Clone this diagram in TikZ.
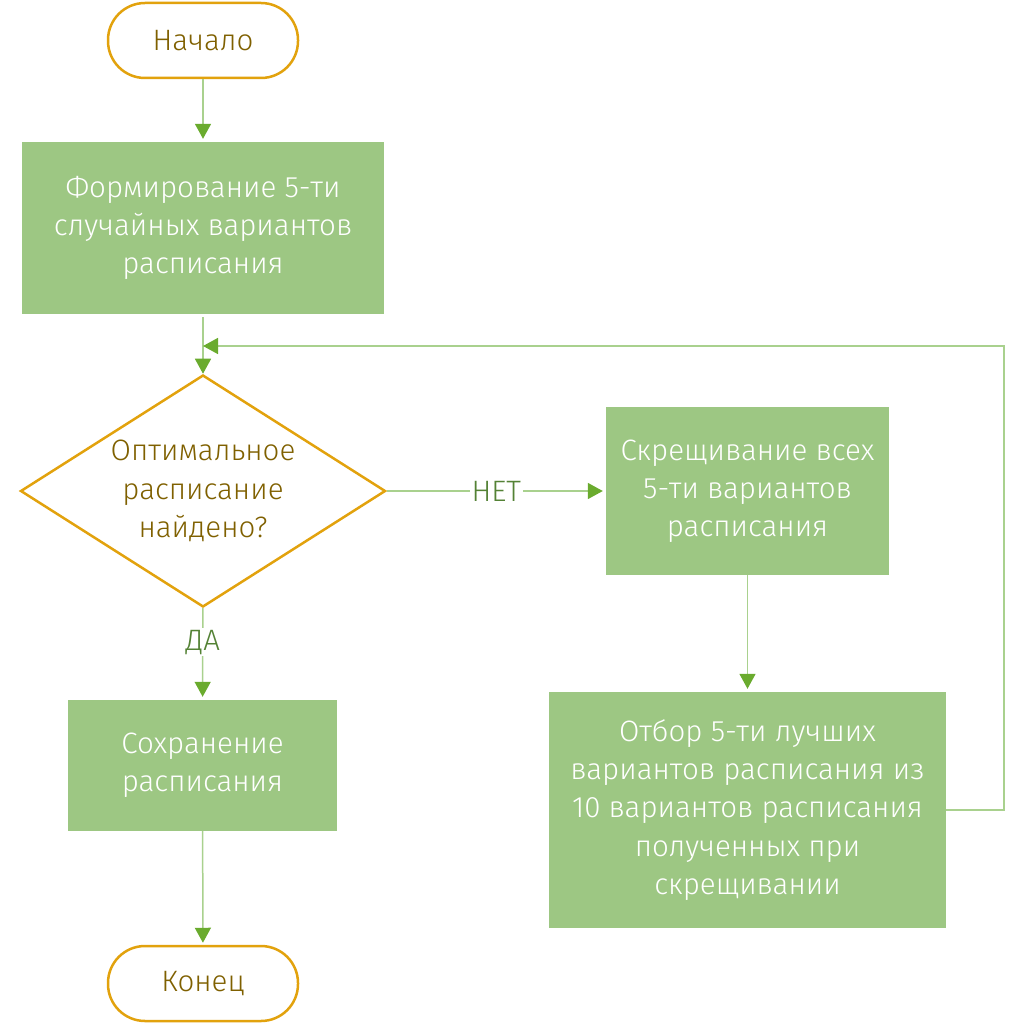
\documentclass[tikz,border=0pt]{standalone}
\usepackage{fontspec}
\setmainfont{Fira Sans}[UprightFont=* Light]
\usetikzlibrary{shapes.geometric,arrows.meta}
\definecolor{boxgreen}{HTML}{9DC783}
\definecolor{linegreen}{HTML}{A9D18E}
\definecolor{tipgreen}{HTML}{6AAB2E}
\definecolor{gold}{HTML}{E2A20D}
\definecolor{brown}{HTML}{7F6000}
\definecolor{lblgreen}{HTML}{548235}
\tikzset{
  base/.style={inner sep=0pt, align=center, font=\fontsize{29.5}{38.2}\selectfont},
  term/.style={base, draw=gold, line width=2.5pt, rounded corners=37pt, minimum width=190pt, minimum height=75pt, text=brown, fill=white},
  proc/.style={base, fill=boxgreen, text=white},
  decis/.style={base, shape=diamond, draw=gold, line width=2.5pt, aspect=1.573, minimum width=365pt, minimum height=232pt, text=brown},
  arr/.style={draw=linegreen, line width=1.5pt, -{Triangle[length=15pt,width=16pt,color=tipgreen,fill=tipgreen]}},
  lbl/.style={font=\fontsize{29.5}{34}\selectfont, text=lblgreen, fill=white, inner sep=2pt}
}
\begin{document}
\begin{tikzpicture}[x=1pt,y=-1pt]
\useasboundingbox (0,0) rectangle (1024,1024);
\node[term] (start) at (203,40.5) {Начало};
\node[proc, minimum width=362pt, minimum height=172pt] (form) at (203,228) {Формирование 5-ти\\случайных вариантов\\расписания};
\node[decis] (dec) at (203,491) {Оптимальное\\расписание\\найдено?};
\node[proc, minimum width=283pt, minimum height=168pt] (cross) at (747.5,491) {Скрещивание всех\\5-ти вариантов\\расписания};
\node[proc, minimum width=397pt, minimum height=236pt] (sel) at (747.5,810) {Отбор 5-ти лучших\\вариантов расписания из\\10 вариантов расписания\\полученных при\\скрещивании};
\node[proc, minimum width=269pt, minimum height=131pt] (save) at (202.5,765.5) {Сохранение\\расписания};
\node[term] (end) at (203,983.5) {Конец};
\coordinate (join) at (203,346);
\coordinate (rt) at (1004,810);

\draw[arr, shorten >=3pt] (start) -- (form);
\draw[arr, shorten <=3pt] (form) -- (dec);
\draw[arr, shorten >=3pt] (dec) -- node[lbl] {НЕТ} (cross);
\draw[arr, shorten >=3pt] (dec) -- node[lbl, pos=0.37] {ДА} (save);
\draw[arr, shorten >=3pt] (cross) -- (sel);
\draw[arr, shorten >=2pt] (save) -- (end);
\draw[arr] (sel.east) -- (rt) |- (join);
\end{tikzpicture}
\end{document}
